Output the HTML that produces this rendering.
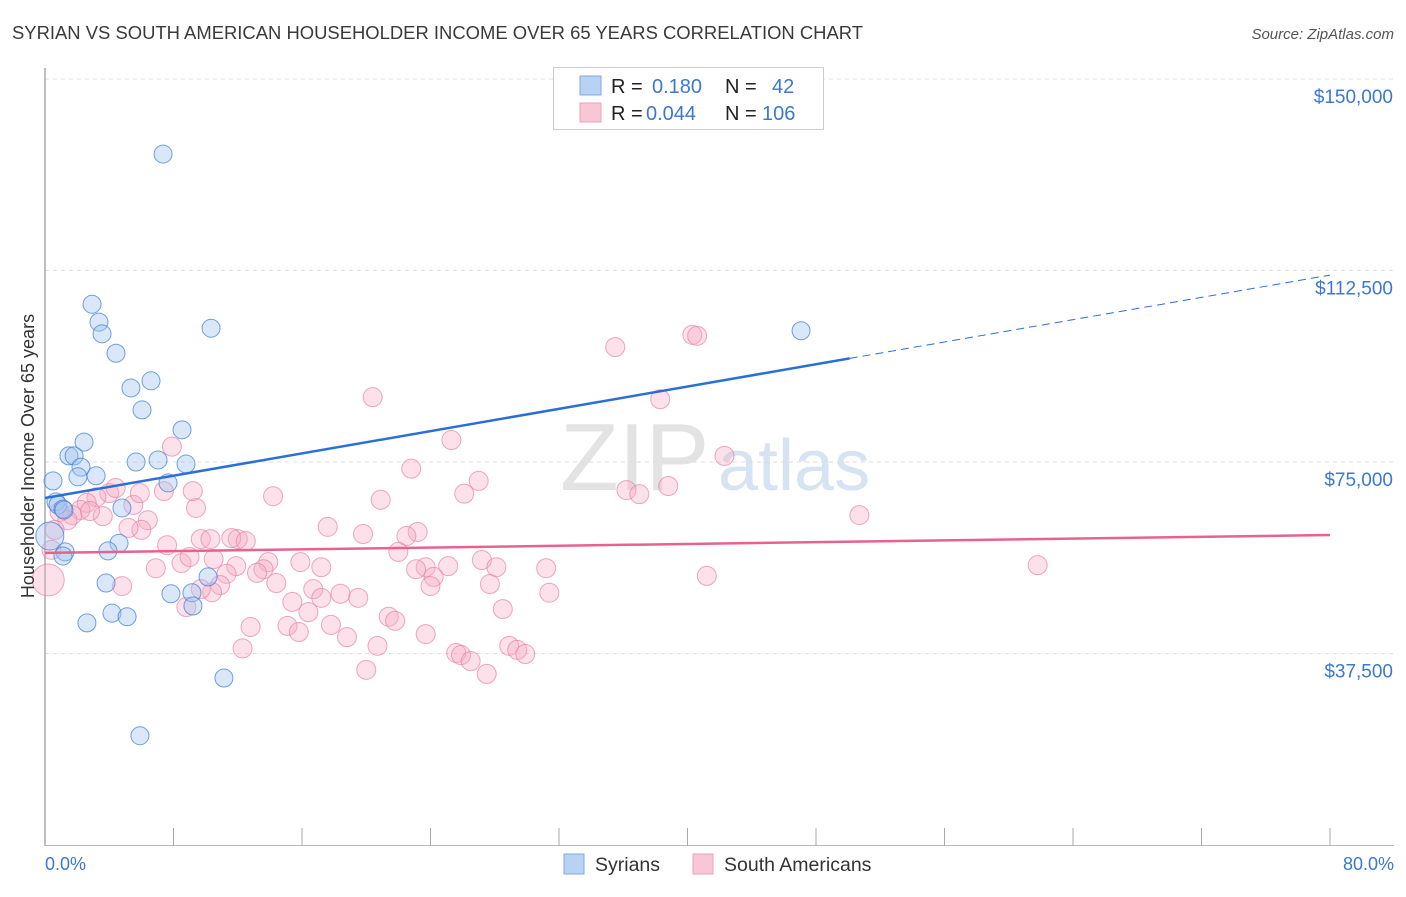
<!DOCTYPE html>
<html><head><meta charset="utf-8"><style>
body{margin:0;background:#fff;font-family:"Liberation Sans",sans-serif;}
svg text{font-family:"Liberation Sans",sans-serif;}
</style></head><body>
<svg id="chart" width="1406" height="892" xmlns="http://www.w3.org/2000/svg">
<text x="12" y="39" font-size="18" fill="#3a3a3a" textLength="851" lengthAdjust="spacingAndGlyphs">SYRIAN VS SOUTH AMERICAN HOUSEHOLDER INCOME OVER 65 YEARS CORRELATION CHART</text>
<text x="1394" y="39" font-size="15" fill="#555" font-style="italic" text-anchor="end">Source: ZipAtlas.com</text>
<text x="560" y="490" font-size="96" fill="#e3e3e3" font-family="Liberation Serif">ZIP</text>
<text x="718" y="490" font-size="72" fill="#d6e3f3">atlas</text>
<g id="grid"></g>
<line x1="45" y1="68" x2="45" y2="846" stroke="#aaa" stroke-width="1.5"/>
<line x1="45" y1="845.5" x2="1394" y2="845.5" stroke="#bbb" stroke-width="1"/>
<g id="xticks"></g>
<g id="pts"></g>
<g id="lines"></g>
<text transform="translate(34,456) rotate(-90)" font-size="18" fill="#333" text-anchor="middle">Householder Income Over 65 years</text>
<text x="45" y="870" font-size="18" fill="#3a78d4">0.0%</text>
<text x="1394" y="870" font-size="18" fill="#3a78d4" text-anchor="end">80.0%</text>
<g>
<rect x="553.5" y="67.5" width="270" height="62" fill="#fff" stroke="#ccc"/>
<rect x="580" y="76" width="21" height="19" fill="#b7d2f4" stroke="#7fa9e4"/>
<rect x="580" y="103" width="21" height="19" fill="#f9c6d6" stroke="#eea0b8"/>
<text x="611" y="93" font-size="20" fill="#222">R = </text><text x="652" y="93" font-size="20" fill="#3a78d4">0.180</text>
<text x="725" y="93" font-size="20" fill="#222">N = </text><text x="772" y="93" font-size="20" fill="#3a78d4">42</text>
<text x="611" y="120" font-size="20" fill="#222">R = </text><text x="646" y="120" font-size="20" fill="#3a78d4">0.044</text>
<text x="725" y="120" font-size="20" fill="#222">N = </text><text x="762" y="120" font-size="20" fill="#3a78d4">106</text>
</g>
<g>
<rect x="564" y="854" width="20" height="20" fill="#b7d2f4" stroke="#7fa9e4"/>
<text x="595" y="871" font-size="19.5" fill="#333">Syrians</text>
<rect x="693" y="854" width="20" height="20" fill="#f9c6d6" stroke="#eea0b8"/>
<text x="724" y="871" font-size="19.5" fill="#333">South Americans</text>
</g>
</svg>
<script>
const yTicks=[37500,75000,112500,150000];
const yTickLabels=["$37,500","$75,000","$112,500","$150,000"];
const xTickPcts=[0,8,16,24,32,40,48,56,64,72,80];
const syrX=[7.35,2.93,3.36,3.55,4.42,10.34,47.07,5.35,6.60,6.04,8.53,2.43,1.49,1.81,7.04,5.67,2.24,8.78,2.05,3.18,0.50,7.66,0.68,0.81,1.12,4.79,1.18,4.61,3.92,1.25,1.12,10.15,3.80,7.84,9.15,9.21,4.17,5.11,2.61,11.14,5.91,0.3];
const syrY=[135.3,105.9,102.4,100.1,96.3,101.2,100.7,89.5,90.9,85.2,81.3,78.9,76.2,76.2,75.4,75.0,74.0,74.6,72.1,72.3,71.3,70.9,67.2,66.6,65.8,66.0,65.6,59.1,57.6,57.4,56.6,52.5,51.3,49.2,49.4,46.8,45.4,44.7,43.5,32.7,21.4,60.5];
const saX=[40.3,40.6,35.5,20.4,38.3,25.3,7.9,42.3,22.8,27.0,26.1,36.2,37.0,38.8,14.2,20.9,9.4,50.7,17.6,19.8,23.2,22.5,22.0,27.2,15.9,13.9,17.2,25.1,23.7,23.1,28.1,31.2,24.2,24.0,27.7,41.2,61.8,31.4,28.5,21.4,21.8,19.5,18.4,16.7,17.2,15.4,16.4,17.8,15.1,15.8,18.8,20.7,23.7,12.3,12.8,25.6,25.9,26.5,27.5,28.9,29.4,29.9,20.0,12.0,11.9,11.3,10.9,10.4,8.8,8.5,6.9,7.6,4.8,6.4,5.5,6.0,5.2,3.6,4.0,4.4,3.2,2.6,2.2,1.7,2.8,0.9,1.4,0.6,0.4,0.2,5.9,7.4,9.2,9.7,10.3,11.6,12.5,13.6,13.2,9.7,10.5,9.0,14.4];
const saY=[99.9,99.7,97.5,87.7,87.3,79.3,78.0,76.2,73.7,71.3,68.8,69.5,68.7,70.3,68.3,67.6,66.0,64.6,62.3,60.9,61.3,60.5,57.4,55.8,55.4,55.4,54.4,54.6,54.4,54.0,54.4,54.2,52.5,50.7,51.1,52.7,54.8,49.4,46.2,44.7,43.9,48.4,49.2,50.1,48.4,47.6,45.6,43.1,42.9,41.7,40.7,39.0,41.3,38.5,42.7,37.6,37.2,36.0,33.5,39.0,38.2,37.4,34.3,59.9,54.6,53.1,50.9,49.5,46.6,55.2,54.2,58.7,50.7,63.6,66.6,61.7,62.1,64.4,68.9,69.9,68.1,67.0,65.6,64.6,65.4,65.2,63.6,61.7,57.8,51.9,68.9,69.3,69.3,59.9,59.9,60.1,59.5,54.0,53.3,50.1,56.0,56.4,51.3];
const trendStart=[67.95,57.2];
const trendEnd=[111.6,60.7];
const solidEndPct=50.1;
const NS="http://www.w3.org/2000/svg";
const sx=p=>45+p*(1285/80);
const sy=v=>462-(v-75000)*(191.5/37500);
const syk=k=>sy(k*1000);
function mk(tag,attrs,parent){const e=document.createElementNS(NS,tag);for(const k in attrs)e.setAttribute(k,attrs[k]);parent.appendChild(e);return e;}
const grid=document.getElementById('grid');
yTicks.forEach((t,i)=>{
  const l=mk('line',{x1:45,x2:1394,y1:sy(t),y2:sy(t),stroke:'#ddd','stroke-dasharray':'4,4'},grid);
  
  
  const tx=mk('text',{x:1393,y:sy(t)+24,'font-size':19,fill:'#3a78d4','text-anchor':'end'},grid);
  tx.textContent=yTickLabels[i];
  
  
});
const xt=document.getElementById('xticks');
xTickPcts.forEach(p=>{
  const l=mk('line',{x1:sx(p),x2:sx(p),y1:828,y2:846,stroke:'#aaa'},xt);
  
  
});
const pts=document.getElementById('pts');
saX.forEach((x,i)=>{
  const r=(i==89)?16:9.5;
  const c=mk('circle',{cx:sx(x),cy:syk(saY[i]),r:r,fill:'rgba(246,170,195,0.35)',stroke:'rgba(232,130,165,0.7)','stroke-width':1},pts);
  
  
});
syrX.forEach((x,i)=>{
  const r=(i==41)?14:9;
  const c=mk('circle',{cx:sx(x),cy:syk(syrY[i]),r:r,fill:'rgba(160,195,240,0.4)',stroke:'rgba(70,130,215,0.75)','stroke-width':1},pts);
  
  
});
const lg=document.getElementById('lines');
const bAt=p=>trendStart[0]+(trendEnd[0]-trendStart[0])*p/80;
const b1=mk('line',{x1:sx(0),y1:syk(bAt(0)),x2:sx(solidEndPct),y2:syk(bAt(solidEndPct)),stroke:'#2b6fd6','stroke-width':2.5},lg);


const b2=mk('line',{x1:sx(solidEndPct),y1:syk(bAt(solidEndPct)),x2:sx(80),y2:syk(bAt(80)),stroke:'#2b6fd6','stroke-width':1,'stroke-dasharray':'8,5'},lg);


const p1=mk('line',{x1:sx(0),y1:syk(trendStart[1]),x2:sx(80),y2:syk(trendEnd[1]),stroke:'#e8628e','stroke-width':2.5},lg);


</script>
</body></html>
